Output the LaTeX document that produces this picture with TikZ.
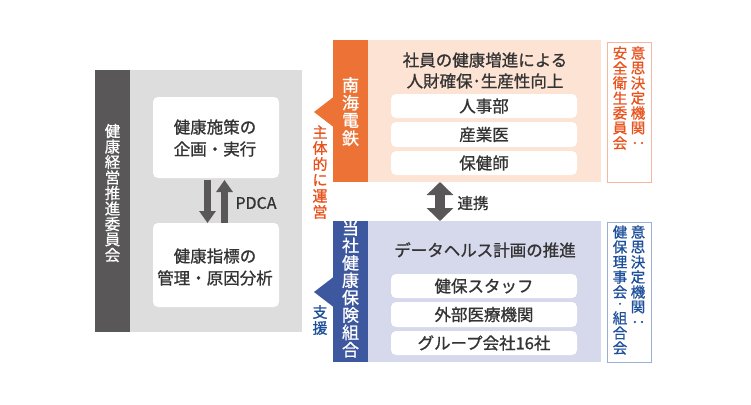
\documentclass[tikz,border=0pt]{standalone}
\usepackage{graphicx}
\usepackage{fontspec}
\setmainfont{Noto Sans CJK JP}[UprightFeatures={FakeBold=0.9}]
\usetikzlibrary{arrows.meta}
\definecolor{lgray}{HTML}{DDDDDD}
\definecolor{dgray}{HTML}{595757}
\definecolor{txt}{HTML}{333333}
\definecolor{orS}{HTML}{EC7335}
\definecolor{orL}{HTML}{FCE3D4}
\definecolor{orT}{HTML}{E8521C}
\definecolor{orB}{HTML}{F3B89E}
\definecolor{blS}{HTML}{3E58A0}
\definecolor{blL}{HTML}{D6D8EB}
\definecolor{blT}{HTML}{1D4F9B}
\definecolor{blB}{HTML}{9BAED3}
% vertical column of characters: name, x, first y, step, style, list
\newcommand\vcol[6]{%
  \foreach \ch [count=\i from 0] in {#6}
    \node[#5] (#1-\i) at (#2,{#3+#4*\i}) {\ch};}
\begin{document}
\begin{tikzpicture}[x=1pt,y=-1pt,
  area/.style={inner sep=0pt, outer sep=0pt, anchor=north west},
  wbox/.style={area, fill=white, rounded corners=5pt},
  ch/.style={inner sep=0pt},
  body/.style={text=txt, align=center, inner sep=0pt},
  big/.style={font={\fontsize{16.5}{22}\selectfont}},
  mid/.style={font={\fontsize{16.5}{21}\selectfont}},
  strip/.style={ch, text=white, font={\fontsize{17}{17}\selectfont}},
  side/.style={ch, font={\fontsize{14.5}{15}\selectfont}},
  lab/.style={ch, font={\fontsize{15}{15}\selectfont}},
  pdarrow/.style={dgray, line width=7pt, -{Triangle[width=16pt,length=12pt]}},
  dbarrow/.style={dgray, line width=10pt, {Triangle[width=26pt,length=13pt]}-{Triangle[width=26pt,length=13pt]}}
]
\useasboundingbox (0,0) rectangle (751,404);
\fill[white] (0,0) rectangle (751,404);

% left committee panel
\node[area, fill=lgray, minimum width=207pt, minimum height=262pt] (kp) at (95,70) {};
\node[area, fill=dgray, minimum width=35pt, minimum height=262pt] (ks) at (95,70) {};
\vcol{kst}{112.5}{131}{15.5}{strip, font={\fontsize{15.5}{15.5}\selectfont}}{健,康,経,営,推,進,委,員,会}
\node[wbox, minimum width=126pt, minimum height=81pt] (kt) at (153,97) {};
\node[wbox, minimum width=126pt, minimum height=84pt] (kb) at (153,223) {};
\node[body, big] (ktt) at (215,138) {健康施策の\\企画・実行};
\node[body, big] (kbt) at (215,267) {健康指標の\\管理・原因分析};
\draw[pdarrow] ([xshift=-8.5pt,yshift=-2pt]kt.south) -- ([xshift=-8.5pt]kb.north);
\draw[pdarrow] ([xshift=8.5pt]kb.north) -- ([xshift=8.5pt,yshift=-2pt]kt.south);
\node[body, font={\fontsize{16}{18}\selectfont}] (pdca) at (256,203) {PDCA};

% orange (Nankai) panel
\node[area, fill=orL, minimum width=233pt, minimum height=142pt] (orP) at (368,40) {};
\node[area, fill=orS, minimum width=35pt, minimum height=142pt] (orSt) at (333,40) {};
\fill[orS] (314,112) -- (333.5,97) -- (333.5,127) -- cycle;
\vcol{orStT}{350.5}{85}{17.7}{strip}{南,海,電,鉄}
\node[body, mid] (orTi) at (485,70.5) {社員の健康増進による\\人財確保･生産性向上};
\node[wbox, minimum width=186pt, minimum height=24pt] (o1) at (391,94) {};
\node[wbox, minimum width=186pt, minimum height=25pt] (o2) at (391,122) {};
\node[wbox, minimum width=186pt, minimum height=24pt] (o3) at (391,151) {};
\node[body, big] at (o1.center) {人事部};
\node[body, big] at (o2.center) {産業医};
\node[body, big] at (o3.center) {保健師};
\vcol{orLab}{320}{132}{16}{lab, text=orT}{主,体,的,に,運,営}
\node[area, draw=orB, line width=0.8pt, minimum width=44pt, minimum height=140pt] (orR) at (607,42) {};
\vcol{orR1}{638}{53}{15}{side, text=orT}{意,思,決,定,機,関,{\rotatebox{-90}{：}}}
\vcol{orR2}{620}{53}{15}{side, text=orT}{安,全,衛,生,委,員,会}

% blue (health insurance) panel
\node[area, fill=blL, minimum width=233pt, minimum height=141pt] (blP) at (368,221) {};
\node[area, fill=blS, minimum width=35pt, minimum height=141pt] (blSt) at (333,221) {};
\fill[blS] (314,292) -- (333.5,277) -- (333.5,307) -- cycle;
\vcol{blStT}{350.5}{228}{17.4}{strip}{当,社,健,康,保,険,組,合}
\node[body, mid] (blTi) at (485,250) {データヘルス計画の推進};
\node[wbox, minimum width=186pt, minimum height=24pt] (b1) at (391,274) {};
\node[wbox, minimum width=186pt, minimum height=25pt] (b2) at (391,302) {};
\node[wbox, minimum width=186pt, minimum height=24pt] (b3) at (391,331) {};
\node[body, big] at (b1.center) {健保スタッフ};
\node[body, big] at (b2.center) {外部医療機関};
\node[body, big] at (b3.center) {グループ会社16社};
\vcol{blLab}{320}{312}{16}{lab, text=blT}{支,援}
\node[area, draw=blB, line width=0.8pt, minimum width=44pt, minimum height=140pt] (blR) at (607,222) {};
\vcol{blR1}{638}{232}{15}{side, text=blT}{意,思,決,定,機,関,{\rotatebox{-90}{：}}}
\vcol{blR2}{620}{232}{15}{side, text=blT}{健,保,理,事,会}
\node[ch, text=blT, font={\fontsize{9}{9}\selectfont}] (blR2dot) at (620,305) {・};
\vcol{blR3}{620}{318}{15}{side, text=blT}{組,合,会}

% cooperation arrow
\draw[dbarrow] ([xshift=-44.5pt]orP.south) -- ([xshift=-44.5pt]blP.north);
\node[body, font={\fontsize{15.5}{18}\selectfont}] (rk) at (473,203) {連携};
\end{tikzpicture}
\end{document}
